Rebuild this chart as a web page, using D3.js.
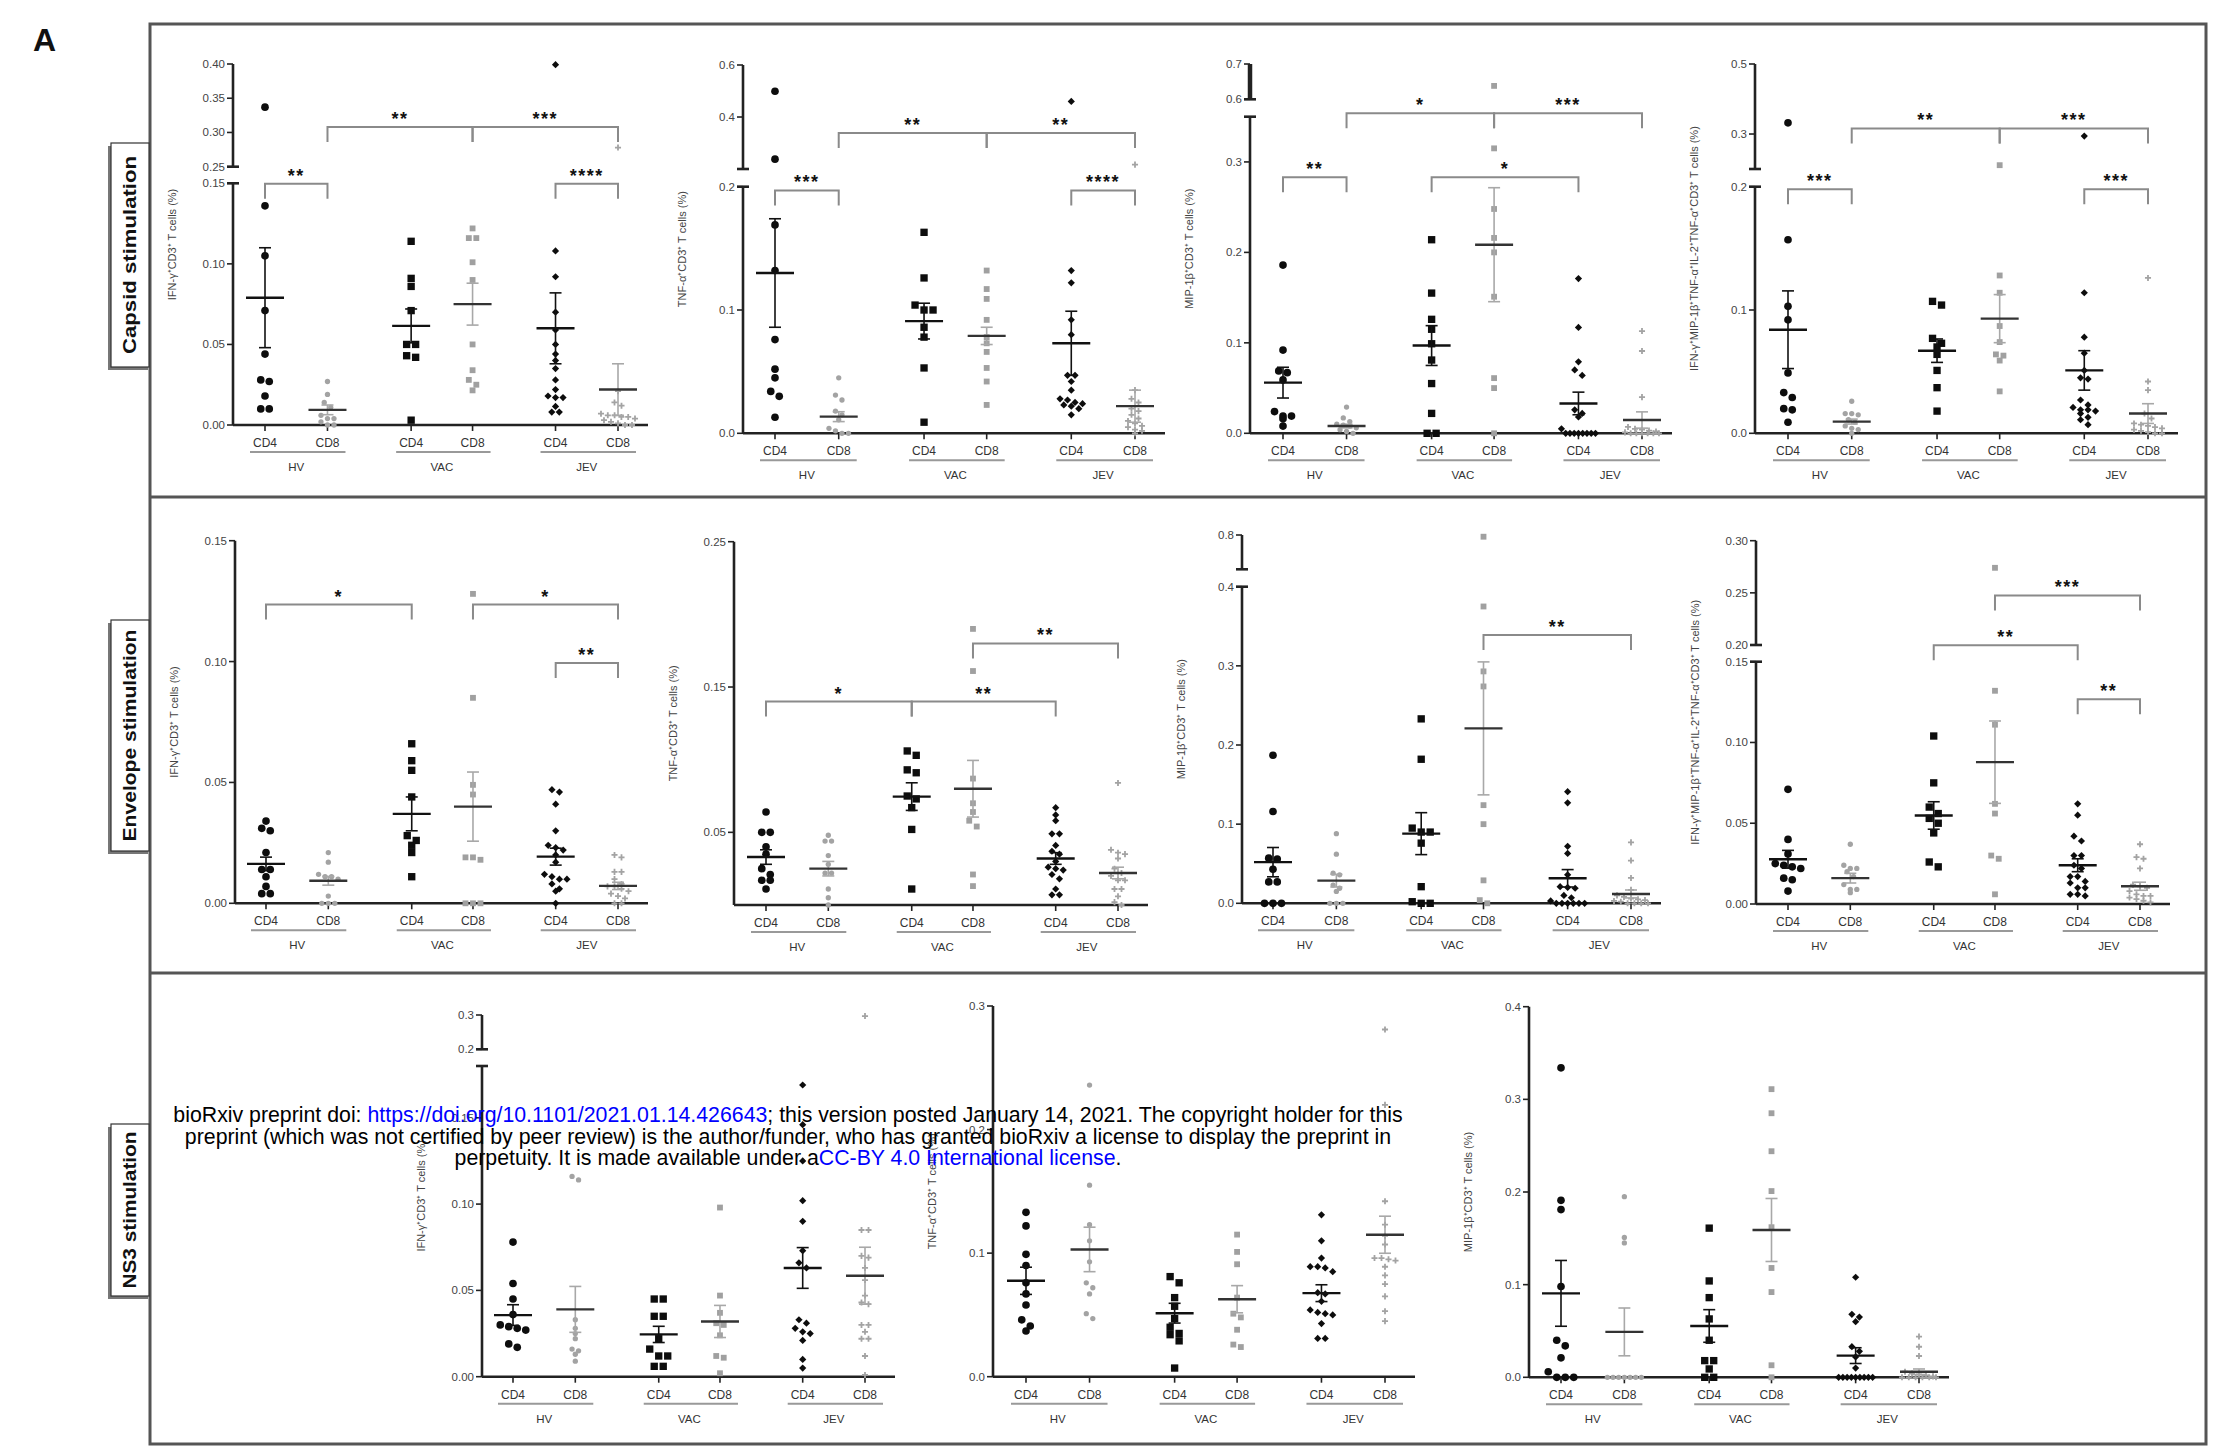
<!DOCTYPE html>
<html><head><meta charset="utf-8">
<script src="https://cdn.jsdelivr.net/npm/d3@7"></script>
<style>
body{margin:0;background:#fff}
svg{display:block}
text{font-family:"Liberation Sans",Arial,Helvetica,sans-serif}
</style>
</head><body>
<svg id="c" width="2228" height="1447"></svg>
<script>
// ---------- labels ----------
const categories = ["CD4","CD8","CD4","CD8","CD4","CD8"];
const groups = ["HV","VAC","JEV"];
const rowLabels = ["Capsid stimulation","Envelope stimulation","NS3 stimulation"];
const yLabelIFN = "IFN-γ⁺CD3⁺ T cells (%)";
const yLabelTNF = "TNF-α⁺CD3⁺ T cells (%)";
const yLabelMIP = "MIP-1β⁺CD3⁺ T cells (%)";
const yLabelPoly = "IFN-γ⁺MIP-1β⁺TNF-α⁺IL-2⁺TNF-α⁺CD3⁺ T cells (%)";

// ---------- Capsid ----------
const capsidIFN = [
 [0.337,0.136,0.105,0.071,0.044,0.028,0.027,0.018,0.010,0.010],
 [0.027,0.019,0.014,0.011,0.006,0.004,0.004,0.002,0.0,0.0],
 [0.114,0.091,0.086,0.071,0.050,0.050,0.043,0.042,0.003],
 [0.122,0.116,0.116,0.101,0.090,0.050,0.034,0.028,0.025,0.0215],
 [0.399,0.108,0.092,0.070,0.059,0.050,0.044,0.040,0.035,0.028,0.022,0.018,0.017,0.017,0.0115,0.008,0.008],
 [0.278,0.021,0.014,0.012,0.007,0.006,0.006,0.005,0.005,0.004,0.003,0.002,0.001,0.0,0.0]];
const capsidIFN_mean = [0.079,0.0094,0.0615,0.075,0.060,0.022];
const capsidIFN_sem  = [0.031,0.003,0.0105,0.013,0.022,0.016];
const capsidIFN_ticks = [[0,0.05,0.10,0.15],[0.25,0.30,0.35,0.40]];
const capsidIFN_sig = [[0,1,0.1497,"**"],[4,5,0.1497,"****"],[1,3,0.308,"**"],[3,5,0.308,"***"]];

const capsidTNF = [
 [0.499,0.238,0.169,0.132,0.076,0.052,0.045,0.034,0.030,0.013],
 [0.045,0.031,0.027,0.018,0.015,0.011,0.004,0.002,0.0,0.0],
 [0.163,0.126,0.104,0.100,0.100,0.086,0.078,0.053,0.009],
 [0.132,0.117,0.109,0.092,0.078,0.073,0.066,0.053,0.042,0.023],
 [0.460,0.132,0.122,0.092,0.080,0.047,0.047,0.042,0.035,0.028,0.027,0.025,0.024,0.023,0.022,0.020,0.015],
 [0.217,0.035,0.028,0.025,0.020,0.018,0.015,0.012,0.010,0.008,0.006,0.005,0.003,0.002,0.0]];
const capsidTNF_mean = [0.130,0.0135,0.091,0.079,0.073,0.022];
const capsidTNF_sem  = [0.044,0.004,0.0145,0.007,0.026,0.013];
const capsidTNF_ticks = [[0,0.1,0.2],[0.4,0.6]];
const capsidTNF_sig = [[0,1,0.197,"***"],[4,5,0.197,"****"],[1,3,0.339,"**"],[3,5,0.339,"**"]];

const capsidMIP = [
 [0.186,0.092,0.069,0.067,0.059,0.024,0.019,0.019,0.016,0.008],
 [0.029,0.017,0.013,0.010,0.009,0.008,0.006,0.004,0.002,0.0],
 [0.214,0.155,0.126,0.115,0.099,0.081,0.055,0.022,0.0,0.0],
 [0.638,0.315,0.248,0.216,0.200,0.151,0.061,0.050,0.0],
 [0.171,0.117,0.079,0.070,0.064,0.026,0.022,0.018,0.005,0.0,0.0,0.0,0.0,0.0,0.0,0.0,0.0],
 [0.113,0.091,0.040,0.007,0.005,0.004,0.003,0.002,0.001,0.0,0.0,0.0,0.0,0.0,0.0]];
const capsidMIP_mean = [0.056,0.008,0.097,0.2085,0.033,0.0147];
const capsidMIP_sem  = [0.017,0.002,0.022,0.063,0.0125,0.009];
const capsidMIP_ticks = [[0,0.1,0.2,0.3],[0.6,0.7]];
const capsidMIP_sig = [[0,1,0.283,"**"],[2,4,0.283,"*"],[1,3,0.40,"*"],[3,5,0.40,"***"]];

const capsidPoly = [
 [0.332,0.157,0.103,0.092,0.049,0.033,0.029,0.020,0.019,0.009],
 [0.026,0.016,0.016,0.015,0.011,0.009,0.006,0.004,0.003,0.0],
 [0.107,0.104,0.077,0.073,0.070,0.064,0.051,0.037,0.018],
 [0.211,0.128,0.114,0.087,0.074,0.064,0.063,0.059,0.034],
 [0.294,0.114,0.078,0.065,0.051,0.045,0.044,0.027,0.023,0.021,0.019,0.019,0.018,0.016,0.013,0.011,0.007],
 [0.126,0.042,0.035,0.016,0.012,0.008,0.007,0.006,0.005,0.004,0.003,0.002,0.001,0.0,0.0]];
const capsidPoly_mean = [0.084,0.0095,0.067,0.093,0.051,0.016];
const capsidPoly_sem  = [0.0315,0.002,0.0095,0.0195,0.016,0.008];
const capsidPoly_ticks = [[0,0.1,0.2],[0.3,0.5]];
const capsidPoly_sig = [[0,1,0.198,"***"],[4,5,0.198,"***"],[1,3,0.316,"**"],[3,5,0.316,"***"]];

// ---------- Envelope ----------
const envIFN = [
 [0.034,0.031,0.030,0.021,0.014,0.014,0.011,0.007,0.004,0.004],
 [0.021,0.017,0.012,0.011,0.011,0.010,0.003,0.0,0.0,0.0],
 [0.066,0.059,0.055,0.044,0.028,0.026,0.024,0.021,0.011],
 [0.128,0.085,0.049,0.045,0.019,0.019,0.018,0.0,0.0,0.0],
 [0.047,0.046,0.041,0.030,0.024,0.023,0.022,0.020,0.017,0.012,0.011,0.010,0.010,0.008,0.006,0.005,0.0],
 [0.020,0.019,0.013,0.013,0.010,0.008,0.007,0.007,0.006,0.005,0.004,0.003,0.002,0.0,0.0]];
const envIFN_mean = [0.0163,0.0093,0.037,0.040,0.0193,0.0072];
const envIFN_sem  = [0.0028,0.0018,0.007,0.0143,0.0035,0.0015];
const envIFN_ticks = [[0,0.05,0.10,0.15]];
const envIFN_sig = [[0,2,0.1236,"*"],[3,5,0.1236,"*"],[4,5,0.0994,"**"]];

const envTNF = [
 [0.064,0.050,0.050,0.040,0.035,0.025,0.021,0.017,0.017,0.011],
 [0.048,0.044,0.044,0.034,0.028,0.022,0.022,0.011,0.005,0.0],
 [0.106,0.103,0.093,0.091,0.075,0.073,0.067,0.052,0.011],
 [0.190,0.161,0.087,0.070,0.064,0.058,0.054,0.021,0.013],
 [0.067,0.062,0.058,0.049,0.049,0.041,0.037,0.035,0.030,0.026,0.025,0.024,0.021,0.018,0.011,0.007,0.007],
 [0.084,0.038,0.036,0.035,0.032,0.025,0.022,0.020,0.017,0.017,0.011,0.011,0.006,0.002,0.0]];
const envTNF_mean = [0.033,0.025,0.0746,0.080,0.032,0.022];
const envTNF_sem  = [0.005,0.005,0.0095,0.0195,0.004,0.004];
const envTNF_ticks = [[0.05,0.15,0.25]];
const envTNF_sig = [[0,2,0.140,"*"],[2,4,0.140,"**"],[3,5,0.180,"**"]];

const envMIP = [
 [0.187,0.116,0.057,0.056,0.043,0.027,0.027,0.0,0.0,0.0],
 [0.088,0.062,0.038,0.036,0.023,0.019,0.015,0.0,0.0,0.0],
 [0.233,0.182,0.095,0.090,0.090,0.076,0.021,0.002,0.0,0.0],
 [0.79,0.375,0.293,0.274,0.124,0.100,0.029,0.004,0.0],
 [0.141,0.127,0.072,0.063,0.036,0.021,0.020,0.019,0.010,0.007,0.003,0.0,0.0,0.0,0.0,0.0,0.0],
 [0.077,0.054,0.032,0.017,0.010,0.008,0.006,0.005,0.004,0.003,0.002,0.0,0.0,0.0,0.0]];
const envMIP_mean = [0.052,0.0286,0.088,0.221,0.0316,0.0118];
const envMIP_sem  = [0.0185,0.008,0.0265,0.084,0.011,0.005];
const envMIP_ticks = [[0,0.1,0.2,0.3,0.4],[0.8]];
const envMIP_sig = [[3,5,0.339,"**"]];

const envPoly = [
 [0.071,0.040,0.031,0.025,0.024,0.023,0.022,0.016,0.015,0.008],
 [0.037,0.024,0.022,0.022,0.020,0.017,0.012,0.009,0.009,0.007],
 [0.104,0.075,0.060,0.056,0.053,0.050,0.044,0.026,0.023],
 [0.274,0.132,0.111,0.062,0.056,0.030,0.028,0.006],
 [0.062,0.055,0.042,0.039,0.030,0.030,0.024,0.022,0.017,0.017,0.014,0.013,0.010,0.010,0.006,0.006,0.005],
 [0.037,0.029,0.028,0.022,0.012,0.011,0.010,0.008,0.006,0.005,0.005,0.004,0.003,0.002,0.001]];
const envPoly_mean = [0.0277,0.016,0.0548,0.0878,0.024,0.011];
const envPoly_sem  = [0.0055,0.003,0.0085,0.0255,0.004,0.0025];
const envPoly_ticks = [[0,0.05,0.10,0.15],[0.20,0.25,0.30]];
const envPoly_sig = [[3,5,0.2475,"***"],[2,4,0.199,"**"],[4,5,0.1268,"**"]];

// ---------- NS3 ----------
const ns3IFN = [
 [0.078,0.054,0.045,0.036,0.030,0.029,0.028,0.027,0.019,0.017],
 [0.116,0.114,0.033,0.028,0.025,0.022,0.016,0.015,0.013,0.009],
 [0.045,0.045,0.035,0.035,0.022,0.016,0.012,0.012,0.006,0.006],
 [0.098,0.047,0.037,0.031,0.030,0.024,0.012,0.011,0.002],
 [0.169,0.146,0.125,0.102,0.090,0.073,0.066,0.063,0.033,0.031,0.028,0.026,0.025,0.021,0.010,0.005],
 [0.297,0.085,0.085,0.070,0.069,0.063,0.056,0.047,0.043,0.042,0.030,0.030,0.026,0.022,0.022,0.012,0.001]];
const ns3IFN_mean = [0.0357,0.039,0.0245,0.032,0.063,0.0585];
const ns3IFN_sem  = [0.006,0.0133,0.0047,0.0093,0.0118,0.0165];
const ns3IFN_ticks = [[0,0.05,0.10,0.15],[0.2,0.3]];
const ns3IFN_sig = [];

const ns3TNF = [
 [0.133,0.122,0.099,0.090,0.076,0.067,0.058,0.046,0.041,0.037],
 [0.236,0.155,0.123,0.110,0.093,0.076,0.072,0.067,0.051,0.047],
 [0.081,0.076,0.064,0.057,0.047,0.040,0.035,0.034,0.029,0.007],
 [0.115,0.101,0.091,0.064,0.051,0.048,0.038,0.026,0.024],
 [0.131,0.110,0.096,0.089,0.089,0.088,0.085,0.068,0.067,0.061,0.054,0.052,0.051,0.050,0.043,0.031,0.031],
 [0.281,0.220,0.142,0.123,0.114,0.107,0.096,0.096,0.095,0.094,0.089,0.082,0.075,0.065,0.053,0.045]];
const ns3TNF_mean = [0.0776,0.103,0.0514,0.0627,0.0676,0.1149];
const ns3TNF_sem  = [0.011,0.018,0.008,0.011,0.0068,0.015];
const ns3TNF_ticks = [[0,0.1,0.2,0.3]];
const ns3TNF_sig = [];

const ns3MIP = [
 [0.334,0.191,0.181,0.098,0.040,0.034,0.021,0.006,0.0,0.0,0.0],
 [0.195,0.151,0.145,0.0,0.0,0.0,0.0,0.0,0.0,0.0],
 [0.161,0.104,0.086,0.063,0.040,0.018,0.018,0.009,0.0,0.0],
 [0.311,0.285,0.244,0.201,0.162,0.118,0.092,0.013,0.0],
 [0.108,0.068,0.065,0.060,0.033,0.028,0.022,0.010,0.0,0.0,0.0,0.0,0.0,0.0,0.0,0.0,0.0],
 [0.044,0.033,0.023,0.006,0.004,0.003,0.002,0.001,0.0,0.0,0.0,0.0,0.0,0.0]];
const ns3MIP_mean = [0.0906,0.049,0.0554,0.159,0.0234,0.006];
const ns3MIP_sem  = [0.0355,0.0258,0.0176,0.034,0.0085,0.003];
const ns3MIP_ticks = [[0,0.1,0.2,0.3,0.4]];
const ns3MIP_sig = [];

// ---------- layout ----------
const panels = [
 {data:capsidIFN, mean:capsidIFN_mean, sem:capsidIFN_sem, ticks:capsidIFN_ticks, sig:capsidIFN_sig, label:yLabelIFN,
  ax:233, cat0:265, span:353, domain:[0,0.15,0.25,0.40], range:[425,183.3,166.7,64], fmt:[".2f",".2f"]},
 {data:capsidTNF, mean:capsidTNF_mean, sem:capsidTNF_sem, ticks:capsidTNF_ticks, sig:capsidTNF_sig, label:yLabelTNF,
  ax:743, cat0:775, span:360, domain:[0,0.2,0.2001,0.6], range:[433.3,186.7,169,65], fmt:[".1f",".1f"]},
 {data:capsidMIP, mean:capsidMIP_mean, sem:capsidMIP_sem, ticks:capsidMIP_ticks, sig:capsidMIP_sig, label:yLabelMIP,
  ax:1250, cat0:1283, span:359, domain:[0,0.35,0.6,0.7], range:[433.3,116.7,99.3,64], fmt:[".1f",".1f"], boldUpper:true},
 {data:capsidPoly, mean:capsidPoly_mean, sem:capsidPoly_sem, ticks:capsidPoly_ticks, sig:capsidPoly_sig, label:yLabelPoly,
  ax:1755, cat0:1788, span:360, domain:[0,0.2,0.2001,0.5], range:[433.3,186.7,169,64], fmt:[".1f",".1f"]},
 {data:envIFN, mean:envIFN_mean, sem:envIFN_sem, ticks:envIFN_ticks, sig:envIFN_sig, label:yLabelIFN,
  ax:235, cat0:266, span:352, domain:[0,0.15], range:[903.3,540.7], fmt:[".2f"]},
 {data:envTNF, mean:envTNF_mean, sem:envTNF_sem, ticks:envTNF_ticks, sig:envTNF_sig, label:yLabelTNF,
  ax:734, cat0:766, span:352, domain:[0,0.25], range:[905,541.7], fmt:[".2f"]},
 {data:envMIP, mean:envMIP_mean, sem:envMIP_sem, ticks:envMIP_ticks, sig:envMIP_sig, label:yLabelMIP,
  ax:1242, cat0:1273, span:358, domain:[0,0.4,0.6,0.8], range:[903.3,586.7,569.3,535], fmt:[".1f",".1f"]},
 {data:envPoly, mean:envPoly_mean, sem:envPoly_sem, ticks:envPoly_ticks, sig:envPoly_sig, label:yLabelPoly,
  ax:1756, cat0:1788, span:352, domain:[0,0.15,0.2,0.3], range:[904,661.7,645,540.7], fmt:[".2f",".2f"]},
 {data:ns3IFN, mean:ns3IFN_mean, sem:ns3IFN_sem, ticks:ns3IFN_ticks, sig:ns3IFN_sig, label:yLabelIFN,
  ax:482, cat0:513, span:352, domain:[0,0.18,0.2,0.3], range:[1376.7,1066,1049.3,1015], fmt:[".2f",".1f"]},
 {data:ns3TNF, mean:ns3TNF_mean, sem:ns3TNF_sem, ticks:ns3TNF_ticks, sig:ns3TNF_sig, label:yLabelTNF,
  ax:993, cat0:1026, span:359, domain:[0,0.3], range:[1376.7,1006], fmt:[".1f"]},
 {data:ns3MIP, mean:ns3MIP_mean, sem:ns3MIP_sem, ticks:ns3MIP_ticks, sig:ns3MIP_sig, label:yLabelMIP,
  ax:1529, cat0:1561, span:358, domain:[0,0.4], range:[1377.3,1006.7], fmt:[".1f"]}
];
const relPos = [0, 0.177, 0.414, 0.588, 0.823, 1];

const svg = d3.select("#c");
svg.append("rect").attr("width",2228).attr("height",1447).attr("fill","#fff");

// marker styles per category index
const markStyle = [
 {type:d3.symbolCircle, size:46, fill:"#0d0d0d", d:8.5, thr:6.5},   // HV CD4
 {type:d3.symbolCircle, size:22, fill:"#a3a3a3", d:6.5, thr:5},     // HV CD8
 {type:d3.symbolSquare, size:54, fill:"#0d0d0d", d:9,   thr:7},     // VAC CD4
 {type:d3.symbolSquare, size:34, fill:"#a0a0a0", d:7.5, thr:6},     // VAC CD8
 {type:d3.symbolSquare, size:26, fill:"#0d0d0d", d:7.5, thr:5.5, rot:45}, // JEV CD4
 {type:d3.symbolPlus,   size:14, fill:"none", stroke:"#a3a3a3", d:7, thr:5} // JEV CD8
];

function swarm(vals, y, d, thr, maxHalf){
  const pts = vals.map(v=>({v, py:y(v)})).sort((a,b)=>a.py-b.py);
  const rows=[]; let cur=null;
  pts.forEach(p=>{ if(cur && p.py-cur[0].py < thr) cur.push(p); else {cur=[p]; rows.push(cur);} });
  rows.forEach(r=>{ const n=r.length; const step=n>1?Math.min(d,2*maxHalf/(n-1)):0;
    r.forEach((p,i)=>p.dx=(i-(n-1)/2)*step); });
  return pts;
}

panels.forEach(p=>{
  const g = svg.append("g");
  const y = d3.scaleLinear().domain(p.domain).range(p.range);
  const xs = relPos.map(r=>p.cat0 + r*p.span);
  const y0 = y(0);
  const segs=[]; for(let i=0;i<p.domain.length;i+=2) segs.push([p.domain[i],p.domain[i+1]]);
  const broken = segs.length>1;
  segs.forEach((s,si)=>{
    g.append("line").attr("x1",p.ax).attr("x2",p.ax).attr("y1",y(s[0])).attr("y2",y(s[1]))
      .attr("stroke","#222").attr("stroke-width",(p.boldUpper&&si===1)?4.5:2.6);
    if(broken){
      const capV = si===0 ? s[1] : s[0];
      g.append("line").attr("x1",p.ax-6).attr("x2",p.ax+6).attr("y1",y(capV)).attr("y2",y(capV))
        .attr("stroke","#222").attr("stroke-width",2.6);
    }
    const fmt = d3.format(p.fmt[si]||p.fmt[0]);
    (p.ticks[si]||[]).forEach(t=>{
      g.append("line").attr("x1",p.ax-6).attr("x2",p.ax).attr("y1",y(t)).attr("y2",y(t))
        .attr("stroke","#222").attr("stroke-width",1.6);
      g.append("text").attr("x",p.ax-8).attr("y",y(t)).attr("dy","0.35em").attr("text-anchor","end")
        .attr("font-size",11.5).attr("fill","#444").text(fmt(t));
    });
  });
  // x axis
  g.append("line").attr("x1",p.ax).attr("x2",xs[5]+30).attr("y1",y0).attr("y2",y0)
    .attr("stroke","#222").attr("stroke-width",2.6);
  xs.forEach((x,i)=>{
    g.append("line").attr("x1",x).attr("x2",x).attr("y1",y0).attr("y2",y0+6).attr("stroke","#222").attr("stroke-width",1.6);
    g.append("text").attr("x",x).attr("y",y0+22).attr("text-anchor","middle").attr("font-size",12).attr("fill","#333").text(categories[i]);
  });
  groups.forEach((gr,gi)=>{
    const a=xs[2*gi], b=xs[2*gi+1];
    g.append("line").attr("x1",a-15).attr("x2",b+18).attr("y1",y0+27).attr("y2",y0+27).attr("stroke","#999").attr("stroke-width",2);
    g.append("text").attr("x",(a+b)/2).attr("y",y0+46).attr("text-anchor","middle").attr("font-size",11.5).attr("fill","#333").text(gr);
  });
  // y label
  const mid = (p.range[0]+p.range[p.range.length-1])/2;
  g.append("text").attr("transform",`translate(${p.ax-57},${mid}) rotate(-90)`).attr("text-anchor","middle")
    .attr("font-size",11).attr("fill","#444").text(p.label);
  // points
  p.data.forEach((vals,ci)=>{
    const st = markStyle[ci];
    const pts = swarm(vals,y,st.d,st.thr,17);
    const sym = d3.symbol().type(st.type).size(st.size);
    g.selectAll(null).data(pts).join("path")
      .attr("d",sym())
      .attr("transform",d=>`translate(${xs[ci]+d.dx},${d.py})`+(st.rot?` rotate(${st.rot})`:""))
      .attr("fill",st.fill).attr("stroke",st.stroke||"none").attr("stroke-width",st.stroke?1.8:0);
  });
  // mean & sem
  p.mean.forEach((m,ci)=>{
    const cd8 = ci%2===1;
    const x = xs[ci], s = p.sem[ci];
    const ec = cd8?"#a8a8a8":"#111";
    g.append("line").attr("x1",x).attr("x2",x).attr("y1",y(m-s)).attr("y2",y(m+s)).attr("stroke",ec).attr("stroke-width",1.6);
    [m-s,m+s].forEach(v=>g.append("line").attr("x1",x-6).attr("x2",x+6).attr("y1",y(v)).attr("y2",y(v)).attr("stroke",ec).attr("stroke-width",1.6));
    g.append("line").attr("x1",x-19).attr("x2",x+19).attr("y1",y(m)).attr("y2",y(m)).attr("stroke",cd8?"#333":"#111").attr("stroke-width",2.4);
  });
  // significance brackets
  p.sig.forEach(([a,b,v,lab])=>{
    const yy = y(v), xa=xs[a], xb=xs[b];
    g.append("path").attr("d",`M${xa},${yy+15}V${yy}H${xb}V${yy+15}`).attr("fill","none").attr("stroke","#8a8a8a").attr("stroke-width",2);
    g.append("text").attr("x",(xa+xb)/2).attr("y",yy-12+10).attr("text-anchor","middle")
      .attr("font-size",18).attr("font-weight","bold").attr("letter-spacing","1.5px").attr("fill","#111").text(lab);
  });
});

// ---------- frame ----------
const fr = svg.append("g").attr("fill","none").attr("stroke","#555").attr("stroke-width",3);
fr.append("rect").attr("x",150).attr("y",24).attr("width",2056).attr("height",1420);
fr.append("line").attr("x1",150).attr("x2",2206).attr("y1",497).attr("y2",497);
fr.append("line").attr("x1",150).attr("x2",2206).attr("y1",973).attr("y2",973);

// row label boxes
const boxes = [[143,367,198],[620,851,212],[1124,1296,157]];
boxes.forEach((b,i)=>{
  svg.append("rect").attr("x",108).attr("y",b[0]+3).attr("width",40).attr("height",b[1]-b[0]).attr("fill","#777");
  svg.append("rect").attr("x",111).attr("y",b[0]).attr("width",38).attr("height",b[1]-b[0]).attr("fill","#fff").attr("stroke","#333").attr("stroke-width",1.2);
  svg.append("text").attr("transform",`translate(136,${(b[0]+b[1])/2}) rotate(-90)`).attr("text-anchor","middle")
    .attr("font-size",18).attr("font-weight","bold").attr("fill","#111")
    .attr("textLength",b[2]).attr("lengthAdjust","spacingAndGlyphs").text(rowLabels[i]);
});

svg.append("text").attr("x",33).attr("y",51).attr("font-size",32).attr("font-weight","bold").attr("fill","#111").text("A");

// ---------- watermark ----------
const wm = [
 [["bioRxiv preprint doi: ","#000"],["https://doi.org/10.1101/2021.01.14.426643","#0000ff"],["; this version posted January 14, 2021. The copyright holder for this","#000"]],
 [["preprint (which was not certified by peer review) is the author/funder, who has granted bioRxiv a license to display the preprint in","#000"]],
 [["perpetuity. It is made available under a","#000"],["CC-BY 4.0 International license","#0000ff"],[".","#000"]]
];
wm.forEach((line,i)=>{
  const t = svg.append("text").attr("x",788).attr("y",1122+i*21.5).attr("text-anchor","middle").attr("font-size",21.3);
  line.forEach(([s,c])=>t.append("tspan").attr("fill",c).text(s));
});
</script>
</body></html>
